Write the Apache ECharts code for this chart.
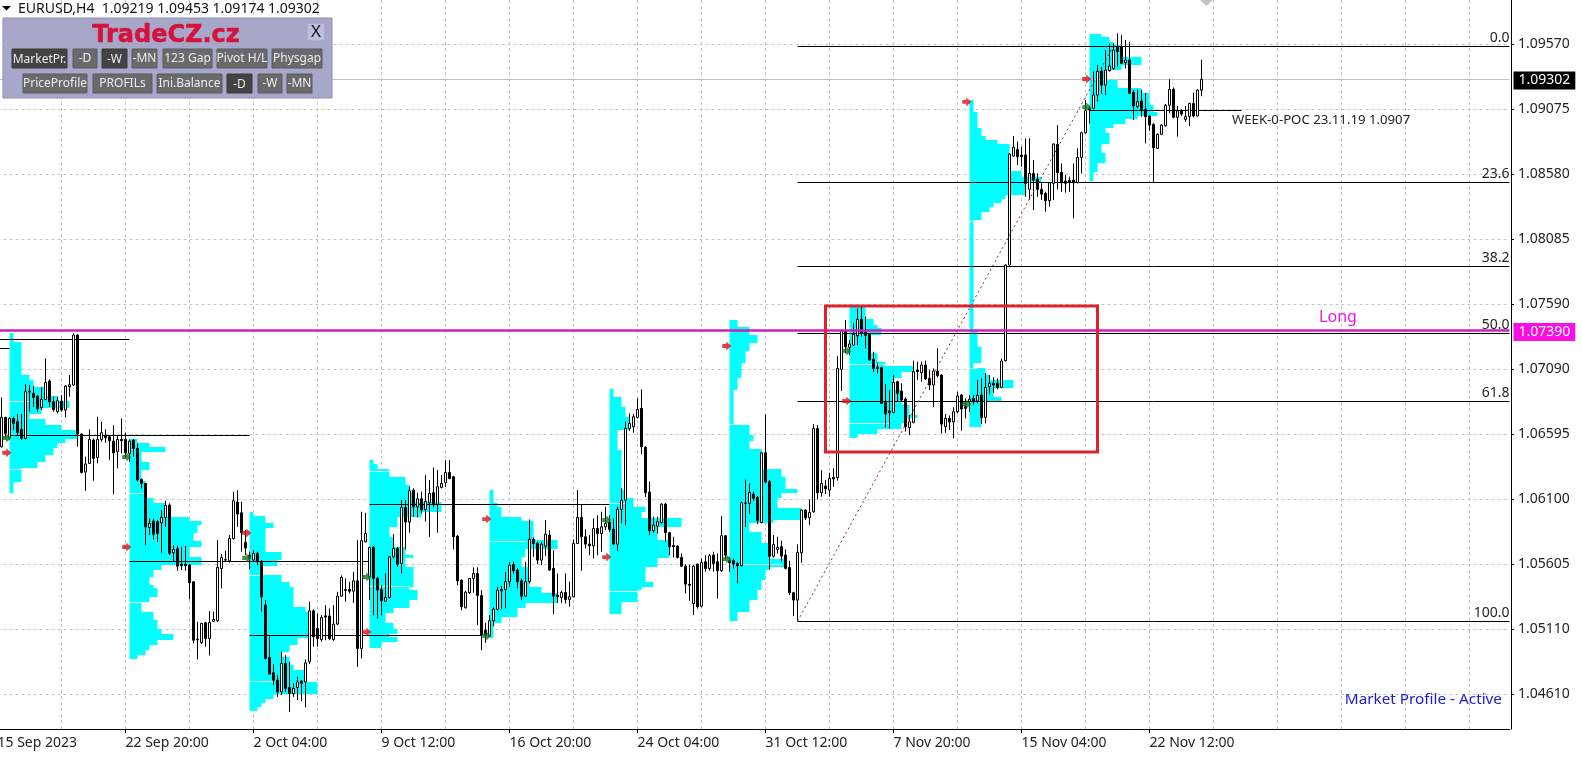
<!DOCTYPE html>
<html><head><meta charset="utf-8">
<style>html,body{margin:0;padding:0;background:#fff}#c{width:1582px;height:760px}</style>
<script src="https://cdn.jsdelivr.net/npm/echarts@6/dist/echarts.min.js"></script>
</head><body><div id="c"></div>
<script>
const SYMBOL_LINE = 'EURUSD,H4  1.09219 1.09453 1.09174 1.09302';
const dateLabels = ['15 Sep 2023','22 Sep 20:00','2 Oct 04:00','9 Oct 12:00','16 Oct 20:00','24 Oct 04:00','31 Oct 12:00','7 Nov 20:00','15 Nov 04:00','22 Nov 12:00'];
const priceTicks = [1.09570,1.09075,1.08580,1.08085,1.07590,1.07090,1.06595,1.06100,1.05605,1.05110,1.04610];
// EURUSD H4 bars in 1/100000 of a price unit: open, high, low, close
const ohlc = [
[106499,106875,106494,106723],[106723,106728,106563,106601],[106568,106723,106550,106715],[106715,106728,106626,106677],[106690,106748,106588,106606],
[106631,106748,106550,106563],[106563,106977,106555,106919],[106916,106970,106766,106924],[106906,106962,106804,106875],[106886,106893,106766,106789],
[106797,106952,106779,106860],[106860,107173,106855,106990],[107000,107013,106804,106842],[106842,106881,106766,106784],[106766,106881,106753,106850],
[106847,106893,106766,106779],[106779,106970,106723,106962],[106957,107046,106881,106972],[106970,107364,106962,107351],[107351,107359,106499,106596],
[106596,106601,106295,106303],[106306,106423,106163,106367],[106372,106631,106367,106555],[106550,106563,106240,106410],[106415,106728,106372,106555],
[106555,106690,106537,106606],[106588,106634,106529,106568],[106575,106580,106397,106545],[106542,106664,106138,106453],[106461,106580,106334,106555],
[106555,106715,106448,106545],[106555,106606,106410,106453],[106448,106555,106384,106542],[106550,106555,106423,106486],[106486,106524,106232,106245],
[106250,106257,106181,106219],[106219,106224,105748,105888],[105883,105952,105825,105914],[105932,105952,105792,105832],[105927,105939,105774,105837],
[105919,106016,105690,105960],[105960,106087,105888,106051],[106054,106067,105672,105685],[105690,105748,105621,105715],[105720,105741,105553,105588],
[105603,105736,105558,105591],[105603,105741,105553,105591],[105596,105603,105334,105461],[105469,105469,104998,105023],[105031,105163,104876,105026],
[105003,105156,104993,105151],[105156,105163,104973,105036],[105036,105245,104906,105158],[105166,105240,105161,105181],[105171,105787,105163,105578],
[105570,105680,105418,105654],[105634,105705,105621,105639],[105629,105825,105614,105799],[105797,106155,105792,106087],[106077,106168,105888,105985],
[105995,106079,105698,105843],[105769,105863,105672,105726],[105672,105698,105563,105647],[105634,105710,105621,105685],[105685,105698,105596,105621],
[105621,105634,105240,105354],[105291,105329,104876,104884],[104891,105062,104764,104764],[104774,104840,104680,104718],[104718,104756,104591,104629],
[104629,104934,104604,104845],[104845,104909,104629,104655],[104662,104858,104476,104616],[104616,104693,104591,104655],[104662,104744,104566,104705],
[104711,104718,104558,104693],[104705,104876,104510,104850],[104858,105316,104840,105247],[105247,105258,104973,105049],[105112,105227,104973,105036],
[105028,105214,105011,105196],[105209,105291,105023,105199],[105207,105265,105023,105036],[105028,105291,105018,105146],[105146,105392,105138,105359],
[105359,105517,105354,105502],[105402,105494,105316,105410],[105410,105469,105380,105397],[105397,105545,105308,105476],[105476,105787,104820,104960],
[104960,106003,104884,105782],[105774,105995,105769,105837],[105507,105736,105329,105731],[105731,105741,105214,105494],[105494,105507,105189,105405],
[105410,105443,105214,105324],[105321,105532,105316,105349],[105349,105664,105341,105659],[105659,105832,105647,105723],[105723,105736,105583,105603],
[105609,106092,105532,106036],[106036,106092,105715,105924],[105924,106194,105843,106163],[106168,106181,105965,106041],[106041,106148,105960,106102],
[106102,106155,105990,106016],[106021,106283,105927,106082],[106071,106245,105812,106143],[106148,106341,106036,106061],[106061,106321,105843,106194],
[106189,106283,106181,106219],[106224,106397,106194,106303],[106303,106397,106250,106257],[106270,106275,105715,105812],[105817,105825,105443,105476],
[105481,105486,105252,105278],[105270,105400,105265,105390],[105385,105494,105375,105494],[105494,105578,105385,105532],[105532,105578,105138,105364],
[105364,105405,104947,105062],[105100,105156,105003,105062],[105054,105214,105049,105171],[105171,105273,105130,105260],[105258,105430,105252,105405],
[105400,105436,105258,105410],[105410,105545,105265,105469],[105469,105621,105430,105596],[105601,105621,105532,105553],[105558,105570,105418,105469],
[105476,105494,105329,105359],[105359,105621,105354,105469],[105469,105944,105456,105792],[105792,105807,105659,105761],[105761,105774,105603,105634],
[105634,105774,105596,105756],[105741,105939,105664,105832],[105825,105863,105553,105558],[105570,105710,105222,105359],[105367,105532,105308,105354],
[105349,105400,105308,105387],[105387,105532,105303,105334],[105334,105469,105278,105354],[105354,105792,105349,105761],[105761,106168,105761,105960],
[105960,106054,105553,105812],[105812,105868,105723,105756],[105756,105825,105672,105743],[105743,105952,105647,105876],[105876,105977,105672,105837],
[105837,106003,105698,105888],[105888,106041,105863,105914],[105921,105977,105850,105868],[105868,105952,105748,105756],[105756,106041,105705,106021],
[106021,106181,105914,106092],[106092,106690,105901,106639],[106639,106753,106621,106677],[106652,106748,106606,106728],[106723,106868,106715,106784],
[106792,106937,106443,106499],[106494,106504,106117,106148],[106153,106232,105825,105858],[105858,105965,105843,105901],[105893,105965,105837,105927],
[105919,106067,105914,106061],[106061,106071,105774,105843],[105843,105850,105672,105736],[105746,105812,105654,105736],[105741,105748,105647,105654],
[105654,105685,105583,105588],[105588,105603,105380,105451],[105451,105596,105324,105443],[105303,105596,105214,105588],[105603,105609,105265,105278],
[105283,105647,105273,105616],[105621,105672,105545,105570],[105570,105680,105553,105667],[105672,105698,105545,105609],[105621,105685,105341,105553],
[105553,105970,105545,105820],[105820,105825,105647,105672],[105629,105659,105545,105614],[105629,105647,105570,105603],[105609,105621,105456,105591],
[105591,106079,105588,106071],[106067,106250,105888,106071],[106067,106219,105985,106150],[106138,106155,106087,106105],[106112,106122,105909,105934],
[105921,106461,105914,106453],[106453,106748,106219,106232],[106232,106245,105563,105664],[105664,105825,105654,105754],[105715,105812,105685,105731],
[105736,105782,105622,105665],[105673,105716,105563,105571],[105578,105629,105367,105385],[105385,105393,105207,105329],[105329,105754,105171,105693],
[105690,106021,105614,106016],[106016,106021,105940,105957],[105957,106097,105902,105998],[106003,106672,105996,106639],[106639,106665,106097,106148],
[106148,106321,106118,106219],[106199,106245,106138,106179],[106169,106301,106118,106258],[106265,106334,106194,106253],[106263,107191,106240,107097],
[107090,107390,106924,107382],[107385,107466,107212,107263],[107257,107313,107199,107283],[107275,107441,107268,107357],[107346,107555,107275,107471],
[107471,107568,107339,107364],[107372,107491,107250,107349],[107359,107364,107156,107161],[107166,107224,107072,107097],[107105,107140,107059,107097],
[107102,107110,106825,106830],[106835,106978,106647,106749],[106772,106932,106639,106759],[106761,107046,106754,106990],[106995,107003,106843,106906],
[106922,106983,106843,106855],[106863,106876,106614,106652],[106644,106741,106588,106690],[106685,107156,106677,107072],[107084,107148,107008,107072],
[107064,107148,106995,107123],[107123,107156,107008,107016],[107021,107084,106932,106970],[106970,107097,106800,107077],[107077,107250,107028,107041],
[107046,107051,106601,106672],[106652,106749,106606,106716],[106716,106738,106627,106688],[106688,106800,106563,106766],[106766,106919,106754,106886],
[106894,106901,106621,106787],[106805,106868,106716,106792],[106843,106894,106766,106861],[106868,106894,106817,106843],[106848,107008,106830,106891],
[106894,107021,106672,106721],[106723,107059,106677,106952],[106957,107046,106901,106983],[106983,107028,106911,106970],[106983,107021,106937,106950],
[106952,107173,106945,107153],[107156,107891,107150,107886],[107886,108740,107880,108733],[108717,108870,108712,108784],[108768,108827,108649,108712],
[108725,108789,108636,108712],[108725,108852,108407,108509],[108463,108852,108382,108585],[108585,108687,108305,108534],[108542,108585,108407,108463],
[108463,108509,108382,108427],[108432,108445,108293,108377],[108377,108514,108331,108514],[108509,108814,108382,108809],[108806,108954,108463,108590],
[108593,108661,108445,108514],[108527,108572,108438,108509],[108532,108560,108445,108514],[108534,108661,108242,108514],[108514,108776,108509,108707],
[108707,108903,108585,108895],[108895,109145,108890,109063],[109081,109094,108967,109068],[109081,109361,109074,109183],[109183,109412,109132,109364],
[109366,109399,109191,109259],[109259,109526,109183,109374],[109369,109577,109361,109404],[109386,109577,109374,109526],[109552,109654,109399,109514],
[109552,109641,109420,109425],[109430,109603,109386,109450],[109450,109590,109191,109196],[109203,109221,108992,109099],[109094,109226,109081,109132],
[109137,109221,109018,109068],[109074,109196,108814,109018],[109023,109023,108911,108954],[108959,108967,108514,108781],[108776,108890,108771,108883],
[108883,108962,108878,108954],[108949,109114,108941,109104],[109104,109303,109043,109226],[109226,109241,109005,109013],[109013,109099,108865,109063],
[109063,109074,109023,109038],[108997,109099,108979,109018],[109018,109124,108946,109119],[109119,109201,109013,109023],[109023,109226,109018,109221],
[109219,109453,109174,109302]
];
// Market profiles: first bar number, level boundaries (top to bottom) and the width of each level in bars
const profileStarts = [3,33,63,93,123,153,183,213,243,273];
const profileTops = [
[107369,107300,107046,107008,106952,106886,106850,106792,106748,106713,106664,106626,106560,106524,106486,106435,106384,106334,106232,106143],
[106555,106524,106499,106461,106384,106321,106240,106105,106067,105965,105934,105901,105843,105782,105736,105659,105596,105558,105507,105443,105418,105354,105316,105240,105176,105112,105074,105023,104985,104947,104909,104876],
[106003,105972,105914,105876,105761,105698,105634,105588,105520,105469,105430,105278,105240,105036,104985,104934,104896,104833,104794,104705,104616,104578,104540,104515,104482],
[106397,106367,106326,106270,106206,106143,106079,106003,105960,105888,105812,105736,105672,105647,105583,105430,105405,105329,105265,105227,105151,105112,105069,105049,105011,104960],
[106168,106067,106041,105965,105934,105787,105715,105659,105583,105430,105380,105303,105265,105201,105151,105036],
[106937,106875,106804,106728,106626,106474,106168,106105,106041,106003,105952,105888,105787,105647,105583,105469,105430,105405,105316,105222],
[107466,107415,107351,107293,107232,107140,107020,106931,106664,106588,106545,106479,106326,106270,106176,106143,106105,106028,105939,105914,105850,105761,105639,105583,105558,105481,105405,105329,105240,105171],
[107568,107471,107428,107402,107352,107212,107148,107115,107072,107021,106932,106817,106741,106716,106677,106632,106596,106563],
[109145,109056,108929,108870,108840,108809,108603,108560,108522,108420,108387,108356,108326,108293,108229,107390,107263,107140,107097,107046,107008,106945,106881,106838,106652],
[109649,109623,109590,109565,109476,109412,109374,109298,109234,109196,109107,109056,109023,108997,108962,108929,108895,108809,108743,108661,108598,108527]
];
const profileLens = [
[1,3,5,6,9,12,15,8,5,9,13,17,14,12,11,9,7,3,1,0],
[2,5,9,3,5,3,4,6,9,15,18,17,16,18,15,18,8,6,5,6,7,5,3,6,7,8,11,7,5,4,2,0],
[1,4,6,4,4,8,7,3,8,10,11,14,15,12,10,8,10,11,14,17,6,4,3,2,0],
[1,2,5,9,10,11,18,13,7,5,6,9,11,9,11,10,12,10,6,4,6,7,5,7,3,0],
[1,2,3,8,11,17,9,8,10,13,17,9,7,3,1,0],
[1,3,4,5,2,3,4,6,9,8,18,12,15,12,9,11,8,7,3,0],
[2,5,7,5,4,3,2,1,5,6,5,8,13,14,17,13,12,18,11,5,8,10,14,10,9,8,7,5,2,0],
[4,6,7,8,5,7,9,16,13,11,13,15,17,14,13,7,2,0],
[1,2,3,4,7,10,13,18,14,9,8,6,5,3,1,2,3,1,4,5,11,6,8,3,0],
[3,5,6,8,13,8,4,7,13,15,16,17,12,9,6,4,5,3,4,2,1,0]
];
// thin pale value-area levels inside the profiles: first bar, price, bars long
const profileMarks = [[3,1.06850,5],[3,1.06326,3],[33,1.06143,4],[33,1.05316,4],[63,1.05520,3],[63,1.04711,6],[93,1.06316,5],[93,1.05433,10],
 [123,1.05782,9],[153,1.06067,4],[153,1.05400,7],[183,1.06672,3],[183,1.05603,13],[213,1.07130,9],[213,1.06677,10],[243,1.08224,2],[243,1.07097,2]];
// POC lines: first bar, last bar, price
const pocLines = [[0,33,1.07321],[0,3,1.07252],[3,63,1.06586],[33,93,1.05627],[63,121,1.05062],[93,153,1.06062],[273,311,1.09069]];
const fibNames = ['0.0','23.6','38.2','50.0','61.8','100.0'];
const fibPrices = [1.09557,1.08517,1.07876,1.07367,1.06846,1.05167];
const fibStartBar = 200, lastBar = 378, fibPeakBar = 279;
const longPrice = 1.07390, lastPrice = 1.09302;
const boxBars = [207,275], boxPrices = [1.07573,1.06459];
const signalBars = [2,32,62,92,122,152,182,212,242,272];
const redSignals = [1.06453,1.05734,1.05841,1.05085,1.05947,1.05657,1.07268,1.06848,1.09130,1.09305];
const greenSignals = [1.06566,1.06421,1.05650,1.05505,1.05055,1.05940,1.05642,1.07230,1.06825,1.09091];
const buttonsRow1 = ['MarketPr.','-D','-W','-MN','123 Gap','Pivot H/L','Physgap'];
const buttonsRow2 = ['PriceProfile','PROFILs','Ini.Balance','-D','-W','-MN'];

const FONT = '"Noto Sans", sans-serif';
const categories = Array.from({length:lastBar+1},(_,i)=> i%32===0 ? (dateLabels[i/32]||'') : '');
const candleData = categories.map((_,i)=>{const r=ohlc[i-1]; return r?[r[0]/1e5,r[3]/1e5,r[2]/1e5,r[1]/1e5]:['-','-','-','-'];});
const profileRects = [];
profileStarts.forEach((s,p)=>{
  const t=profileTops[p], l=profileLens[p];
  for(let i=0;i<t.length-1;i++) profileRects.push([s,t[i]/1e5,t[i+1]/1e5,s+l[i]]);
});
const arrow = 'path://M0,2.3 L4,2.3 L4,0 L9,4 L4,8 L4,5.7 L0,5.7 Z';

// panel button boxes: left, width
const row1Boxes = [[12,55,1],[73,24,0],[102,25,1],[132,25,0],[163,49,0],[217,50,0],[272,50,0]];
const row2Boxes = [[23,64,0],[93,59,0],[157,65,0],[227,25,1],[258,24,0],[287,25,0]];
function button(label,box,y,h){
  const dark=box[2];
  return [
   {type:'rect',z:100,shape:{x:box[0],y:y,width:box[1],height:h},style:{fill:dark?'#434343':'#6a6a6a',stroke:dark?'#3a3a3a':'#5a5a62',lineWidth:1}},
   {type:'text',z:101,style:{x:box[0]+box[1]/2,y:y+h/2+(dark?1:0),text:label,fill:'#ececec',font:'12px '+FONT,align:'center',verticalAlign:'middle'}}
  ];
}
const graphics = [
 {type:'polygon',z:100,shape:{points:[[2,6],[11,6],[6.5,10.5]]},style:{fill:'#000'}},
 {type:'text',z:100,style:{x:18,y:9,text:SYMBOL_LINE,fill:'#111',font:'14px '+FONT,verticalAlign:'middle',whiteSpace:'pre'}},
 {type:'rect',z:99,shape:{x:3,y:18,width:329,height:80},style:{fill:'#a7a7ca',stroke:'#8d8db0',lineWidth:1}},
 {type:'text',z:100,style:{x:166,y:36,text:'TradeCZ.cz',fill:'#d4143c',stroke:'#d4143c',lineWidth:0.6,font:'900 24px "DejaVu Sans", sans-serif',align:'center',verticalAlign:'middle'}},
 {type:'rect',z:100,shape:{x:307,y:23,width:18,height:18},style:{fill:'#bcbcdc',stroke:'#a0a0c4',lineWidth:1}},
 {type:'text',z:101,style:{x:316,y:32,text:'X',fill:'#111',font:'17px '+FONT,align:'center',verticalAlign:'middle'}},
 {type:'polygon',z:100,shape:{points:[[1200,0],[1213,0],[1206.5,6]]},style:{fill:'#c4c4c4'}},
 {type:'text',z:100,style:{x:1232,y:120,text:'WEEK-0-POC 23.11.19 1.0907',fill:'#222',font:'13.2px '+FONT,verticalAlign:'middle'}},
 {type:'text',z:100,style:{x:1338,y:317,text:'Long',fill:'#f018e0',font:'16px '+FONT,align:'center',verticalAlign:'middle'}},
 {type:'text',z:100,style:{x:1502,y:700,text:'Market Profile - Active',fill:'#1c1cc8',font:'15.3px '+FONT,align:'right',verticalAlign:'middle'}}
];
buttonsRow1.forEach((b,i)=>graphics.push(...button(b,row1Boxes[i],49,19)));
buttonsRow2.forEach((b,i)=>graphics.push(...button(b,row2Boxes[i],74,19)));

const chart = echarts.init(document.getElementById('c'),null,{renderer:'canvas'});
chart.setOption({
  animation:false,
  backgroundColor:'#fff',
  grid:{left:-2.5,top:0,width:1512,height:729.3,containLabel:false,outerBoundsMode:'none'},
  xAxis:{type:'category',data:categories,boundaryGap:false,
    axisLine:{onZero:false,lineStyle:{color:'#000',width:1}},
    axisTick:{interval:(i)=>i%32===0&&i<=288,length:4,lineStyle:{color:'#000'}},
    axisLabel:{interval:(i)=>i%32===0,showMinLabel:true,hideOverlap:false,align:'left',margin:7,fontFamily:FONT,fontSize:14,color:'#222'},
    splitLine:{show:true,interval:(i)=>i%16===0,lineStyle:{color:'#c4c4c4',type:[3,3],width:1}}},
  yAxis:{type:'value',position:'right',offset:1.5,min:1.04343,max:1.09908,
    axisLine:{show:true,lineStyle:{color:'#000',width:1}},
    axisTick:{show:true,length:3,lineStyle:{color:'#000'},customValues:priceTicks},
    axisLabel:{customValues:priceTicks,formatter:v=>v.toFixed(5),margin:7,padding:[6,0,0,0],fontFamily:FONT,fontSize:14,color:'#222'},
    splitLine:{show:true,lineStyle:{color:'#c4c4c4',type:[3,3],width:1}}},
  graphic:graphics,
  series:[
    {type:'custom',name:'Market Profile',z:1,silent:true,data:profileRects,encode:{x:[0,3],y:[1,2]},
     renderItem:(params,api)=>{
       const a=api.coord([api.value(0),api.value(1)]), b=api.coord([api.value(3),api.value(2)]);
       const y0=Math.round(a[1]), y1=Math.round(b[1]);
       return {type:'rect',shape:{x:a[0],y:y0,width:b[0]-a[0],height:y1-y0},style:{fill:'#00ffff',stroke:null}};
     }},
    {type:'custom',name:'Value levels',z:1,silent:true,data:profileMarks,encode:{x:[0],y:[1]},
     renderItem:(params,api)=>{
       const a=api.coord([api.value(0),api.value(1)]), b=api.coord([api.value(0)+api.value(2),api.value(1)]);
       return {type:'rect',shape:{x:a[0],y:Math.round(a[1]),width:b[0]-a[0],height:1},style:{fill:'#e4ffff',stroke:null}};
     }},
    {type:'line',name:'Levels',data:[],z:2,silent:true,
     markLine:{silent:true,symbol:'none',z:2,animation:false,precision:5,
       lineStyle:{color:'#000',width:1,type:'solid'},
       data:[
        ...pocLines.map(p=>[{coord:[p[0],p[2]],label:{show:false}},{coord:[p[1],p[2]]}]),
        ...fibPrices.map((p,i)=>[{name:fibNames[i],coord:[fibStartBar,p],
           label:{show:true,formatter:fibNames[i],position:'insideEndTop',distance:[0,1],fontFamily:FONT,fontSize:14,color:'#222'}},{coord:[lastBar,p]}]),
        [{coord:[0,lastPrice],lineStyle:{color:'#c2c2c2'},label:{show:false}},{coord:[lastBar,lastPrice]}]
       ]}},
    {type:'candlestick',name:'EURUSD',z:3,data:candleData,barWidth:3,silent:true,
     itemStyle:{color:'#fff',color0:'#000',borderColor:'#000',borderColor0:'#000',borderWidth:1},
     markLine:{silent:true,symbol:'none',z:4,animation:false,precision:5,
       lineStyle:{color:'#cc20bc',width:2.5,type:'solid'},
       data:[
        {yAxis:longPrice,label:{show:true,position:'end',distance:4,offset:[0,2],formatter:longPrice.toFixed(5),backgroundColor:'#f80fe6',color:'#fff',padding:[3,5,1,5],fontFamily:FONT,fontSize:14}},
        {yAxis:lastPrice,lineStyle:{color:'rgba(0,0,0,0)',width:0.01},label:{show:true,position:'end',distance:4,offset:[0,1],formatter:lastPrice.toFixed(5),backgroundColor:'#000',color:'#fff',padding:[3,5,1,5],fontFamily:FONT,fontSize:14}}
       ]}},
    {type:'line',name:'Fibo trend',z:5,silent:true,showSymbol:false,
     data:[[fibStartBar,fibPrices[5]],[fibPeakBar,fibPrices[0]]],
     lineStyle:{color:'#a8202c',width:1,type:[2,3]},
     markArea:{silent:true,z:6,animation:false,itemStyle:{color:'rgba(0,0,0,0)',borderColor:'#dc2430',borderWidth:3},
       data:[[{coord:[boxBars[0],boxPrices[0]]},{coord:[boxBars[1],boxPrices[1]]}]]}},
    {type:'scatter',name:'Sell',z:7,silent:true,symbol:arrow,symbolSize:[9,9],symbolOffset:[1.3,0],itemStyle:{color:'#e00a14'},
     data:signalBars.map((b,i)=>[b,redSignals[i]])},
    {type:'scatter',name:'Buy',z:7,silent:true,symbol:arrow,symbolSize:[9,9],symbolOffset:[1.3,0],itemStyle:{color:'#0c741a'},
     data:signalBars.map((b,i)=>[b,greenSignals[i]])}
  ]
});
</script></body></html>
